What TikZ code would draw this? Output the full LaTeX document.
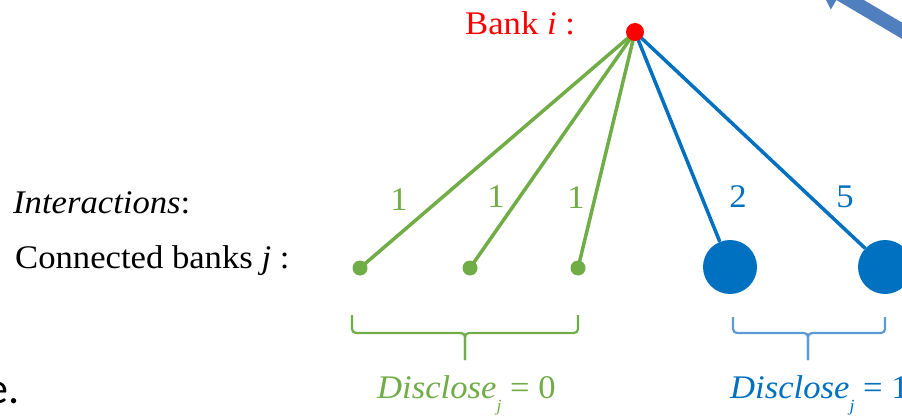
\documentclass[tikz,border=0pt]{standalone}
\usepackage{fontspec}
\setmainfont{Liberation Serif}[FakeStretch=1.05]
\newfontfamily\slidefont{Carlito}
\usetikzlibrary{backgrounds}
\definecolor{dgreen}{HTML}{70AD47}
\definecolor{dblue}{HTML}{0070C0}
\definecolor{lblue}{HTML}{5B9BD5}
\definecolor{arrowblue}{HTML}{4F7FBE}
\tikzset{
  txt/.style={inner sep=0pt, anchor=base west, font=\fontsize{33}{38}\selectfont},
  num/.style={inner sep=0pt, anchor=center, font=\fontsize{33}{38}\selectfont},
  dot/.style={circle, inner sep=0pt, minimum size=#1},
  gline/.style={draw=dgreen, line width=3.5pt},
  bline/.style={draw=dblue, line width=3.5pt},
  bracket/.style={line width=2.2pt, rounded corners=4pt},
}
\begin{document}
\begin{tikzpicture}[x=1pt,y=-1pt]
\useasboundingbox (0,0) rectangle (902,417);
% dots
\node[dot=18pt, fill=red] (r) at (635,32) {};
\node[dot=15pt, fill=dgreen] (g1) at (360,268) {};
\node[dot=15pt, fill=dgreen] (g2) at (470,268) {};
\node[dot=15pt, fill=dgreen] (g3) at (578,268) {};
\node[dot=54pt, fill=dblue] (b1) at (730,267) {};
\node[dot=54pt, fill=dblue] (b2) at (885,267) {};
% connectors
\begin{scope}[on background layer]
\draw[gline] (r.center) -- (g1.center);
\draw[gline] (r.center) -- (g2.center);
\draw[gline] (r.center) -- (g3.center);
\draw[bline] (r.center) -- (b1);
\draw[bline] (r.center) -- (b2);
\end{scope}
% labels
\node[txt, text=red] (bank) at (465,35) {Bank \textit{i} :};
\node[txt] (inter) at (13,213) {\textit{Interactions}:};
\node[txt] (conn) at (15,268) {Connected banks \textit{j} :};
\node[num, text=dgreen] (n1) at (399,200) {1};
\node[num, text=dgreen] (n2) at (496,197) {1};
\node[num, text=dgreen] (n3) at (576,198) {1};
\node[num, text=dblue] (n4) at (738,197) {2};
\node[num, text=dblue] (n5) at (845,197) {5};
% brackets
\draw[bracket, dgreen] (352,315) -- (352,333) -- (465,333) -- (465,360);
\draw[bracket, dgreen] (578,315) -- (578,333) -- (465,333) -- (465,360);
\draw[bracket, lblue] (733,317) -- (733,333) -- (808,333) -- (808,360);
\draw[bracket, lblue] (885,317) -- (885,333) -- (808,333) -- (808,360);
\node[txt, text=dgreen] (d0) at (377,398) {\textit{Disclose}\raisebox{-13.5pt}{\fontsize{17}{17}\selectfont\textit{j}} = 0};
\node[txt, text=dblue] (d1) at (730,398) {\textit{Disclose}\raisebox{-13.5pt}{\fontsize{17}{17}\selectfont\textit{j}} = 1};
% slide remnants
\node[inner sep=0pt, anchor=base east, font=\slidefont\fontsize{44}{48}\selectfont] (e) at (20,403) {e.};
\fill[arrowblue] (922.4,51) -- (836.4,0) -- (830.8,9.5) -- (816,-20) -- (849.2,-21.5) -- (843.6,-12) -- (929.6,39) -- cycle;
\end{tikzpicture}
\end{document}
